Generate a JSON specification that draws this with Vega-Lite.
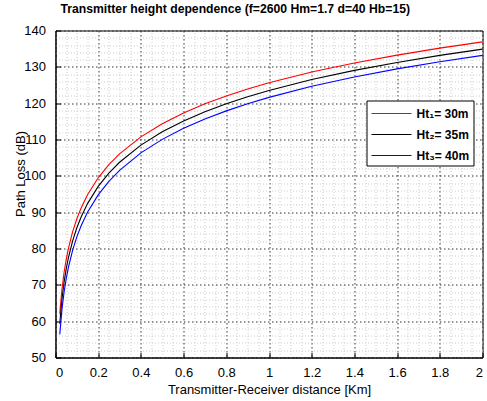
{
  "$schema": "https://vega.github.io/schema/vega-lite/v6.json",
  "width": 427,
  "height": 327,
  "autosize": "none",
  "padding": {"left": 55.5, "top": 30.5, "right": 4.5, "bottom": 43.5},
  "background": "white",
  "config": {
    "font": "Liberation Sans",
    "view": {"stroke": "black", "strokeWidth": 1},
    "axis": {"zindex": 0}
  },
  "title": {
    "text": "Transmitter height dependence (f=2600 Hm=1.7 d=40 Hb=15)",
    "anchor": "start",
    "frame": "group",
    "dx": 5,
    "offset": 9,
    "font": "Liberation Sans",
    "fontSize": 12.2,
    "fontWeight": "bold",
    "color": "black"
  },
  "data": {
    "values": [
      {"d": 0.02, "ht1": 62.06, "ht2": 59.28, "ht3": 56.36},
      {"d": 0.03, "ht1": 68.64, "ht2": 65.93, "ht3": 63.12},
      {"d": 0.04, "ht1": 73.32, "ht2": 70.66, "ht3": 67.92},
      {"d": 0.05, "ht1": 76.94, "ht2": 74.32, "ht3": 71.64},
      {"d": 0.06, "ht1": 79.90, "ht2": 77.32, "ht3": 74.68},
      {"d": 0.08, "ht1": 84.58, "ht2": 82.04, "ht3": 79.48},
      {"d": 0.10, "ht1": 88.20, "ht2": 85.70, "ht3": 83.20},
      {"d": 0.12, "ht1": 91.16, "ht2": 88.69, "ht3": 86.24},
      {"d": 0.15, "ht1": 94.79, "ht2": 92.36, "ht3": 89.96},
      {"d": 0.20, "ht1": 99.46, "ht2": 97.08, "ht3": 94.76},
      {"d": 0.25, "ht1": 103.08, "ht2": 100.74, "ht3": 98.48},
      {"d": 0.30, "ht1": 106.04, "ht2": 103.73, "ht3": 101.52},
      {"d": 0.40, "ht1": 110.72, "ht2": 108.46, "ht3": 106.32},
      {"d": 0.50, "ht1": 114.34, "ht2": 112.12, "ht3": 110.04},
      {"d": 0.60, "ht1": 117.30, "ht2": 115.12, "ht3": 113.08},
      {"d": 0.70, "ht1": 119.81, "ht2": 117.64, "ht3": 115.65},
      {"d": 0.80, "ht1": 121.98, "ht2": 119.84, "ht3": 117.88},
      {"d": 0.90, "ht1": 123.89, "ht2": 121.77, "ht3": 119.84},
      {"d": 1.00, "ht1": 125.60, "ht2": 123.50, "ht3": 121.60},
      {"d": 1.20, "ht1": 128.56, "ht2": 126.49, "ht3": 124.64},
      {"d": 1.40, "ht1": 131.06, "ht2": 129.02, "ht3": 127.21},
      {"d": 1.60, "ht1": 133.23, "ht2": 131.21, "ht3": 129.44},
      {"d": 1.80, "ht1": 135.15, "ht2": 133.15, "ht3": 131.40},
      {"d": 2.00, "ht1": 136.86, "ht2": 134.88, "ht3": 133.16}
    ]
  },
  "transform": [
    {"fold": ["ht1", "ht2", "ht3"], "as": ["series", "loss"]}
  ],
  "layer": [
    {
      "description": "minor grid",
      "mark": {"type": "point", "opacity": 0},
      "encoding": {
        "x": {
          "field": "d", "type": "quantitative",
          "scale": {"domain": [0, 2], "nice": false, "zero": false},
          "axis": {
            "orient": "top", "title": null, "labels": false, "ticks": false, "domain": false,
            "grid": true, "gridColor": "#cccccc", "gridDash": [1, 2], "gridWidth": 1,
            "values": [0.05, 0.1, 0.15, 0.25, 0.3, 0.35, 0.45, 0.5, 0.55, 0.65, 0.7, 0.75, 0.85, 0.9, 0.95, 1.05, 1.1, 1.15, 1.25, 1.3, 1.35, 1.45, 1.5, 1.55, 1.65, 1.7, 1.75, 1.85, 1.9, 1.95]
          }
        },
        "y": {
          "field": "loss", "type": "quantitative",
          "scale": {"domain": [50, 140], "nice": false, "zero": false},
          "axis": {
            "orient": "right", "title": null, "labels": false, "ticks": false, "domain": false,
            "grid": true, "gridColor": "#cccccc", "gridDash": [1, 2], "gridWidth": 1,
            "values": [52, 54, 56, 58, 62, 64, 66, 68, 72, 74, 76, 78, 82, 84, 86, 88, 92, 94, 96, 98, 102, 104, 106, 108, 112, 114, 116, 118, 122, 124, 126, 128, 132, 134, 136, 138]
          }
        }
      }
    },
    {
      "mark": {"type": "line", "strokeWidth": 1.1},
      "encoding": {
        "x": {
          "field": "d", "type": "quantitative",
          "scale": {"domain": [0, 2], "nice": false, "zero": false},
          "axis": {
            "orient": "bottom",
            "title": "Transmitter-Receiver distance [Km]",
            "values": [0, 0.2, 0.4, 0.6, 0.8, 1, 1.2, 1.4, 1.6, 1.8, 2],
            "format": "~g",
            "grid": true, "gridColor": "#333333", "gridDash": [1.5, 2.5], "gridWidth": 1,
            "domainColor": "black", "tickColor": "black", "tickSize": -5,
            "labelFontSize": 13, "labelColor": "black", "labelPadding": 14,
            "labelFont": "Liberation Sans",
            "titleFont": "Liberation Sans", "titleFontSize": 13, "titleFontWeight": "normal",
            "titleColor": "black", "titlePadding": 4
          }
        },
        "y": {
          "field": "loss", "type": "quantitative",
          "scale": {"domain": [50, 140], "nice": false, "zero": false},
          "axis": {
            "orient": "left",
            "title": "Path Loss (dB)",
            "values": [50, 60, 70, 80, 90, 100, 110, 120, 130, 140],
            "grid": true, "gridColor": "#333333", "gridDash": [1.5, 2.5], "gridWidth": 1,
            "domainColor": "black", "tickColor": "black", "tickSize": -5,
            "labelFontSize": 13, "labelColor": "black", "labelPadding": 15,
            "labelFont": "Liberation Sans",
            "titleFont": "Liberation Sans", "titleFontSize": 13, "titleFontWeight": "normal",
            "titleColor": "black", "titleX": -28, "titleY": 143
          }
        },
        "color": {
          "field": "series", "type": "nominal",
          "scale": {"domain": ["ht1", "ht2", "ht3"], "range": ["#ff0000", "#000000", "#0000ff"]},
          "legend": {
            "orient": "none", "legendX": 311, "legendY": 70,
            "title": null,
            "fillColor": "white", "padding": 4,
            "symbolType": "M-2.5,0H2.5", "symbolSize": 256,
            "symbolOffset": 12,
            "labelFont": "Liberation Sans", "labelFontSize": 12, "labelFontWeight": "bold",
            "labelColor": "black", "labelOffset": 16, "rowPadding": 6,
            "labelExpr": "{'ht1': 'Ht₁= 30m', 'ht2': 'Ht₂= 35m', 'ht3': 'Ht₃= 40m'}[datum.label]",
            "encode": {
              "legend": {"update": {"stroke": {"value": "black"}, "strokeWidth": {"value": 1}}},
              "symbols": {
                "update": {
                  "stroke": {"scale": "color", "field": "value"},
                  "strokeWidth": {"value": 1.2},
                  "strokeOpacity": {"value": 1}
                }
              }
            }
          }
        }
      }
    }
  ],
  "resolve": {"axis": {"x": "independent", "y": "independent"}}
}
